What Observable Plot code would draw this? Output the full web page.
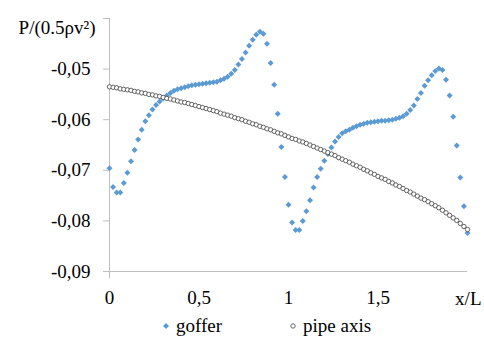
<!DOCTYPE html>
<html><head><meta charset="utf-8">
<script src="https://cdn.jsdelivr.net/npm/d3@7"></script>
<script src="https://cdn.jsdelivr.net/npm/@observablehq/plot@0.6"></script>
<style>
html,body{margin:0;padding:0;background:#fff;}
#wrap{position:relative;width:484px;height:338px;overflow:hidden;font-family:"Liberation Serif","DejaVu Serif",serif;}
#legend{position:absolute;left:0;top:312px;}
</style></head>
<body><div id="wrap"><div id="chart"></div><div id="legend"></div></div>
<script>
// x/L sampling positions (step 0.02 from 0 to 2)
const xPositions = d3.range(101).map(i => +(i * 0.02).toFixed(2));
const goffer = [
-0.0696,-0.0733,-0.0744,-0.0744,-0.0725,-0.0705,-0.0682,-0.0660,-0.0639,-0.0620,
-0.0603,-0.0591,-0.0580,-0.0571,-0.0564,-0.0558,-0.0552,-0.0547,-0.0543,-0.0540,
-0.0538,-0.0536,-0.0534,-0.0532,-0.0531,-0.0530,-0.0529,-0.0528,-0.0527,-0.0526,
-0.0525,-0.0522,-0.0519,-0.0515,-0.0509,-0.0502,-0.0491,-0.0480,-0.0467,-0.0454,
-0.0442,-0.0432,-0.0426,-0.0430,-0.0450,-0.0488,-0.0531,-0.0588,-0.0654,-0.0713,
-0.0768,-0.0803,-0.0818,-0.0818,-0.0800,-0.0781,-0.0759,-0.0734,-0.0713,-0.0697,
-0.0681,-0.0668,-0.0655,-0.0643,-0.0634,-0.0627,-0.0623,-0.0620,-0.0616,-0.0613,
-0.0610,-0.0608,-0.0606,-0.0605,-0.0604,-0.0603,-0.0602,-0.0602,-0.0601,-0.0600,
-0.0598,-0.0596,-0.0593,-0.0588,-0.0581,-0.0572,-0.0559,-0.0547,-0.0533,-0.0522,
-0.0512,-0.0504,-0.0499,-0.0502,-0.0521,-0.0552,-0.0594,-0.0651,-0.0714,-0.0771,
-0.0824];
const pipeAxis = [
-0.0535,-0.0536,-0.0537,-0.0539,-0.0540,-0.0541,-0.0542,-0.0544,-0.0545,-0.0547,
-0.0548,-0.0550,-0.0551,-0.0553,-0.0554,-0.0556,-0.0558,-0.0559,-0.0561,-0.0563,
-0.0565,-0.0566,-0.0568,-0.0570,-0.0572,-0.0574,-0.0576,-0.0578,-0.0580,-0.0582,
-0.0584,-0.0587,-0.0589,-0.0591,-0.0593,-0.0596,-0.0598,-0.0600,-0.0603,-0.0605,
-0.0608,-0.0610,-0.0613,-0.0615,-0.0618,-0.0620,-0.0623,-0.0626,-0.0628,-0.0631,
-0.0634,-0.0637,-0.0639,-0.0642,-0.0644,-0.0647,-0.0650,-0.0653,-0.0656,-0.0659,
-0.0662,-0.0665,-0.0668,-0.0671,-0.0675,-0.0678,-0.0681,-0.0684,-0.0688,-0.0691,
-0.0694,-0.0698,-0.0701,-0.0705,-0.0708,-0.0712,-0.0715,-0.0718,-0.0722,-0.0725,
-0.0729,-0.0732,-0.0736,-0.0740,-0.0743,-0.0747,-0.0751,-0.0755,-0.0758,-0.0762,
-0.0766,-0.0770,-0.0774,-0.0779,-0.0784,-0.0789,-0.0794,-0.0799,-0.0805,-0.0811,
-0.0817];
const xTicks = [0, 0.5, 1, 1.5];
const xTickLabels = ["0", "0,5", "1", "1,5"];
const yTicks = [-0.09, -0.08, -0.07, -0.06, -0.05, -0.04];
const yTickLabels = ["-0,09", "-0,08", "-0,07", "-0,06", "-0,05", ""];
const seriesNames = ["goffer", "pipe axis"];
const yTitle = "P/(0.5ρv²)";
const xTitle = "x/L";

const gofferData = xPositions.map((x, i) => ({x, y: goffer[i]}));
const pipeData = xPositions.map((x, i) => ({x, y: pipeAxis[i]}));
const axisGray = "#bfbfbf";
const blue = "#5b9bd5";
const serif = "Liberation Serif, DejaVu Serif, serif";

const chart = Plot.plot({
  width: 484, height: 312,
  marginLeft: 109, marginRight: 17, marginTop: 18, marginBottom: 41,
  style: {fontFamily: serif, fontSize: "19px", color: "#000", background: "#fff"},
  x: {domain: [0, 2]},
  y: {domain: [-0.09, -0.04]},
  marks: [
    Plot.ruleX([0], {stroke: axisGray}),
    Plot.ruleY([-0.09], {stroke: axisGray}),
    Plot.axisY({ticks: yTicks, tickSize: 6, tickFormat: () => "", stroke: axisGray, label: null}),
    Plot.axisY({ticks: yTicks, tickSize: 0, tickPadding: 19, tickFormat: d => yTickLabels[yTicks.indexOf(d)], label: null, fontFamily: serif}),
    Plot.axisX({ticks: [0], tickSize: 7, tickFormat: () => "", stroke: axisGray, label: null}),
    Plot.axisX({ticks: xTicks, tickSize: 0, tickPadding: 19, tickFormat: d => xTickLabels[xTicks.indexOf(d)], label: null, fontFamily: serif}),
    Plot.dot(gofferData, {x: "x", y: "y", symbol: "diamond2", r: 2.7, fill: blue}),
    Plot.dot(pipeData, {x: "x", y: "y", r: 2.2, stroke: "#404040", fill: "white", strokeWidth: 0.8}),
    Plot.text([yTitle], {frameAnchor: "top-left", textAnchor: "end", dx: -14, dy: 2, fontFamily: serif}),
    Plot.text([xTitle], {frameAnchor: "bottom-right", textAnchor: "end", dx: 14, dy: 33, fontFamily: serif})
  ]
});
document.getElementById("chart").appendChild(chart);

// legend below the chart
const lg = d3.select("#legend").append("svg").attr("width", 484).attr("height", 26)
  .attr("font-family", serif).attr("font-size", 19);
lg.append("path").attr("d", d3.symbol(d3.symbolDiamond2, Math.PI * 2.7 * 2.7)()).attr("transform", "translate(166,14)").attr("fill", blue);
lg.append("text").attr("x", 176).attr("y", 19.5).text(seriesNames[0]);
lg.append("circle").attr("cx", 293).attr("cy", 14).attr("r", 2.2).attr("fill", "white").attr("stroke", "#404040").attr("stroke-width", 0.8);
lg.append("text").attr("x", 303).attr("y", 19.5).text(seriesNames[1]);
</script>
</body></html>
